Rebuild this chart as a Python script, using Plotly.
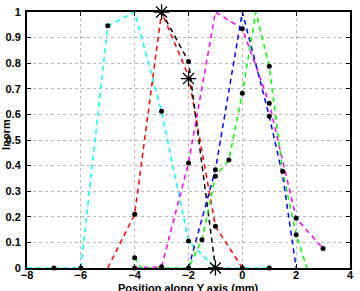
import plotly.graph_objects as go

# ---- data ----
cyan_x = [-8, -7, -6, -5, -4, -3, -2, -1, 0, 1]
cyan_y = [0, 0, 0, 0.946, 1.0, 0.612, 0.105, 0, 0, 0]

red_x = [-5, -4, -3, -2, -1, 0]
red_y = [0, 0.21, 1.0, 0.75, 0.163, 0]

black_x = [-3, -2, -1]
black_y = [1.0, 0.807, 0]

magenta_x = [-4, -3, -2, -1, 0, 1, 2, 3]
magenta_y = [0, 0.005, 0.41, 1.0, 0.935, 0.644, 0.194, 0.076]

blue_x = [-2, -1, 0, 1, 1.5, 2]
blue_y = [0, 0.384, 1.0, 0.593, 0.36, 0]

green_x = [-4, -3.75, -2, -1.5, -1, -0.5, 0, 0.5, 1, 1.5, 2, 2.4]
green_y = [0.04, 0, 0, 0.11, 0.358, 0.422, 0.683, 1.0, 0.788, 0.377, 0.13, 0]

# measured points (black dots)
dots_x = [-7, -6, -5, -3, -2, 1, -4, -1, 0, -4, -3, -2, 0, 1, 2, 3,
          -4, -1.5, -1, -0.5, 0, 1, 1.5, 2, -1, 1, -2, -2]
dots_y = [0, 0, 0.946, 0.612, 0.105, 0, 0.21, 0.163, 0, 0, 0.005, 0.41, 0.935, 0.644, 0.194, 0.076,
          0.04, 0.11, 0.358, 0.422, 0.683, 0.788, 0.377, 0.13, 0.384, 0.593, 0.807, 0]

# asterisk markers
star_x = [-3, -2, -1]
star_y = [1.0, 0.74, 0]

x_ticks = [-8, -6, -4, -2, 0, 2, 4]
y_ticks = [0, 0.1, 0.2, 0.3, 0.4, 0.5, 0.6, 0.7, 0.8, 0.9, 1]
y_ticklabels = ["0", "0.1", "0.2", "0.3", "0.4", "0.5", "0.6", "0.7", "0.8", "0.9", "1"]

series = [
    (cyan_x, cyan_y, "#00FFFF"),
    (red_x, red_y, "#FF0000"),
    (black_x, black_y, "#000000"),
    (magenta_x, magenta_y, "#FF00FF"),
    (blue_x, blue_y, "#0000FF"),
    (green_x, green_y, "#00FF00"),
]

fig = go.Figure()
for xs, ys, col in series:
    fig.add_trace(go.Scatter(x=xs, y=ys, mode="lines",
                             line=dict(color=col, width=1.5, dash="5px,4px"),
                             cliponaxis=False, showlegend=False))

fig.add_trace(go.Scatter(x=dots_x, y=dots_y, mode="markers",
                         marker=dict(color="black", size=5, symbol="circle"),
                         cliponaxis=False, showlegend=False))
fig.add_trace(go.Scatter(x=star_x, y=star_y, mode="markers",
                         marker=dict(color="black", size=13, symbol="asterisk-open",
                                     line=dict(color="black", width=1.3)),
                         cliponaxis=False, showlegend=False))

font = dict(family="Liberation Sans, Arial, sans-serif", size=11, color="black")

fig.update_layout(
    width=360, height=291,
    margin=dict(l=25, r=6, t=8, b=23),
    paper_bgcolor="white", plot_bgcolor="white",
    font=font,
    xaxis=dict(range=[-8, 4], tickvals=x_ticks,
               ticktext=["<b>" + ("\u2212" + str(-v) if v < 0 else str(v)) + "</b>" for v in x_ticks],
               showline=True, linecolor="black", linewidth=2, mirror="ticks",
               ticks="inside", ticklen=4, tickwidth=1, tickcolor="black",
               showgrid=True, gridcolor="#b8b8b8", griddash="dot", gridwidth=1,
               zeroline=False, ticklabelstandoff=-4),
    yaxis=dict(range=[0, 1], tickvals=y_ticks,
               ticktext=["<b>" + t + "</b>" for t in y_ticklabels],
               showline=True, linecolor="black", linewidth=2, mirror="ticks",
               ticks="inside", ticklen=4, tickwidth=1, tickcolor="black",
               showgrid=True, gridcolor="#b8b8b8", griddash="dot", gridwidth=1,
               zeroline=False, ticklabelstandoff=2),
    annotations=[
        dict(text="<b>Position along Y axis (mm)</b>", xref="paper", yref="paper",
             x=0.5, y=0, yshift=-12, xanchor="center", yanchor="top",
             showarrow=False, font=font),
        dict(text="<b>Inorm</b>", xref="paper", yref="paper",
             x=-0.065, y=0.52, xanchor="center", yanchor="middle",
             textangle=-90, showarrow=False, font=font),
    ],
)

fig.write_html("out.html")
